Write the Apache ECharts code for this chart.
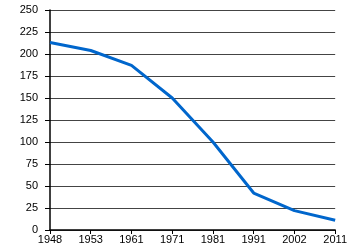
<!DOCTYPE html>
<html><head><meta charset="utf-8">
<script src="https://cdn.jsdelivr.net/npm/echarts@6/dist/echarts.min.js"></script>
<style>html,body{margin:0;padding:0;background:#fff}#c{width:350px;height:250px}</style>
</head><body><div id="c"></div>
<script>
const years = ['1948','1953','1961','1971','1981','1991','2002','2011'];
const values = [213, 204, 187, 150, 100, 42, 22, 11];
const chart = echarts.init(document.getElementById('c'), null, {renderer:'canvas'});
chart.setOption({
  animation:false,
  backgroundColor:'#fff',
  grid:{left:50,right:14,top:10,bottom:20},
  xAxis:{type:'category',data:years,boundaryGap:false,
    axisLine:{lineStyle:{color:'#000',width:1.5}},
    axisTick:{show:true,length:4,alignWithLabel:true,lineStyle:{color:'#000'}},
    axisLabel:{color:'#000',fontFamily:'Liberation Sans',fontSize:11,margin:4,interval:0},
    splitLine:{show:false}},
  yAxis:{type:'value',min:0,max:250,interval:25,
    axisLine:{show:true,lineStyle:{color:'#000',width:1.5}},
    axisTick:{show:true,length:5,lineStyle:{color:'#000'}},
    axisLabel:{color:'#000',fontFamily:'Liberation Sans',fontSize:11,margin:12},
    splitLine:{show:true,lineStyle:{color:'#444',width:1}}},
  series:[{type:'line',data:values,symbol:'none',
    lineStyle:{color:'#0066cc',width:3}}]
});
</script></body></html>
